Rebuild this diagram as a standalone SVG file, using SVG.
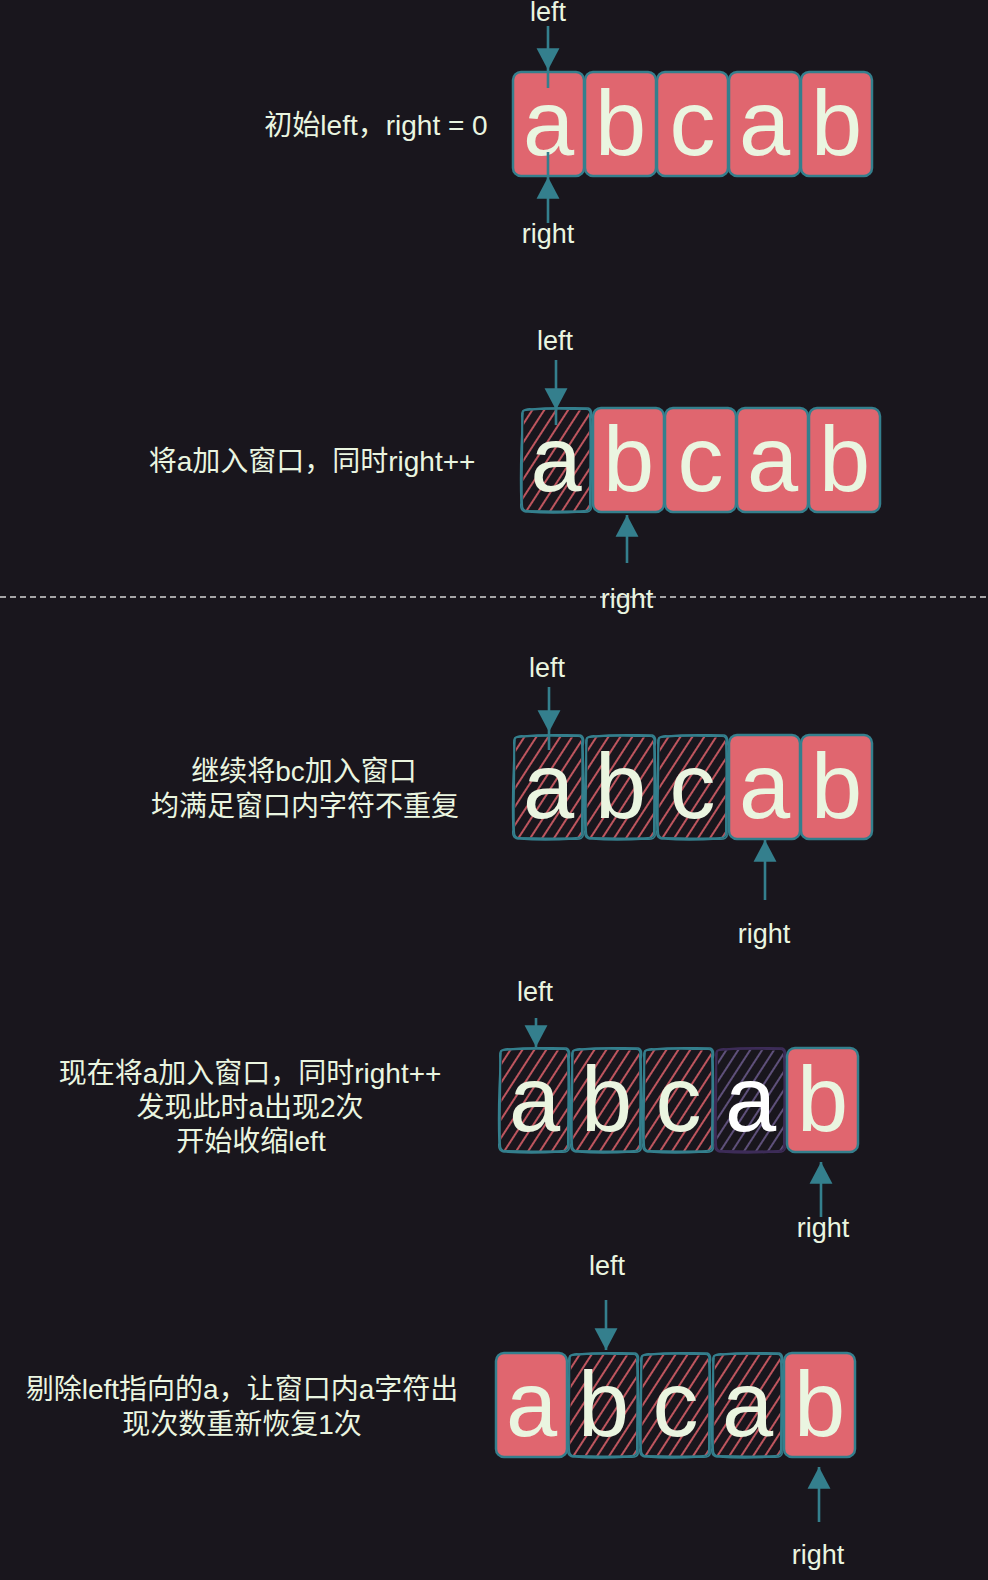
<svg xmlns="http://www.w3.org/2000/svg" xmlns:xlink="http://www.w3.org/1999/xlink" width="988" height="1580" viewBox="0 0 988 1580">
<style>
.bg{fill:#19161d}
.box{fill:#e0666f;stroke:#347f8d;stroke-width:2.5}
.ch{font-family:"Liberation Sans","Noto Sans CJK SC",sans-serif;font-size:92px;fill:#eaf5e0;text-anchor:middle}
.chw{fill:#ffffff}
.lbl{font-family:"Liberation Sans","Noto Sans CJK SC",sans-serif;font-size:27px;fill:#eaf5e0;text-anchor:middle}
.desc{font-family:"Liberation Sans","Noto Sans CJK SC",sans-serif;font-size:28px;fill:#eaf5e0;text-anchor:middle}
.arr{fill:none;stroke:#347f8d;stroke-width:2.6}
.mid{marker-mid:url(#ah)}
.end{marker-end:url(#ah)}
.dash{stroke:#d4d4d4;stroke-width:1.5;stroke-dasharray:6 4}
</style>
<defs>
<marker id="ah" markerUnits="userSpaceOnUse" markerWidth="24" markerHeight="24" viewBox="0 0 22 22" refX="20" refY="11" orient="auto">
<path d="M0,0.5 L20,11 L0,21.5 Z" fill="#347f8d"/>
</marker>
<pattern id="hatch" width="10" height="10" patternUnits="userSpaceOnUse" patternTransform="rotate(33)">
<line x1="2" y1="0" x2="2" y2="10" stroke="#e8656e" stroke-width="1.6"/>
</pattern>
<pattern id="hatchP" width="10" height="10" patternUnits="userSpaceOnUse" patternTransform="rotate(33)">
<line x1="2" y1="0" x2="2" y2="10" stroke="#75639a" stroke-width="1.5"/>
</pattern>
<symbol id="sketch" viewBox="0 0 72 106" width="72" height="106" overflow="visible">
<path d="M4,4 C20,2 52,3 69,4 L70,103 C50,105 22,104 3,103 Z" fill="url(#hatch)"/>
<path d="M6,3 C24,1 48,2 66,2 C70,2 71,5 70,9 C71,35 70,70 70,98 C70,103 68,104 64,104 C44,105 24,104 7,104 C3,104 2,101 2,97 C1,70 3,38 2,9 C2,4 3,3 6,3 Z" fill="none" stroke="#347f8d" stroke-width="2"/>
<path d="M3,6 C2,3 8,1 12,2 C30,0 50,1 68,1 C72,2 72,6 71,12 C72,40 71,72 71,100 C72,104 68,106 62,105 C44,106 22,106 8,105 C2,105 0,102 1,96 C0,68 1,36 3,6" fill="none" stroke="#347f8d" stroke-width="1.6"/>
</symbol>
<symbol id="sketchP" viewBox="0 0 72 106" width="72" height="106" overflow="visible">
<path d="M4,4 C20,2 52,3 69,4 L70,103 C50,105 22,104 3,103 Z" fill="url(#hatchP)"/>
<path d="M6,3 C24,1 48,2 66,2 C70,2 71,5 70,9 C71,35 70,70 70,98 C70,103 68,104 64,104 C44,105 24,104 7,104 C3,104 2,101 2,97 C1,70 3,38 2,9 C2,4 3,3 6,3 Z" fill="none" stroke="#3d2c58" stroke-width="2"/>
<path d="M3,6 C2,3 8,1 12,2 C30,0 50,1 68,1 C72,2 72,6 71,12 C72,40 71,72 71,100 C72,104 68,106 62,105 C44,106 22,106 8,105 C2,105 0,102 1,96 C0,68 1,36 3,6" fill="none" stroke="#3d2c58" stroke-width="1.6"/>
</symbol>
</defs>
<rect class="bg" x="0" y="0" width="988" height="1580"/>

<g id="separator">
<line class="dash" x1="0" y1="597" x2="988" y2="597"/>
</g>

<!-- Row 1 -->
<g id="row1">
<text class="desc" x="376" y="135">初始left，right = 0</text>
<g id="r1-b1"><rect class="box" x="513" y="72" width="71" height="104" rx="8"/><text class="ch" x="548.5" y="155">a</text></g>
<g id="r1-b2"><rect class="box" x="585" y="72" width="71" height="104" rx="8"/><text class="ch" x="620.5" y="155">b</text></g>
<g id="r1-b3"><rect class="box" x="657" y="72" width="71" height="104" rx="8"/><text class="ch" x="692.5" y="155">c</text></g>
<g id="r1-b4"><rect class="box" x="729" y="72" width="71" height="104" rx="8"/><text class="ch" x="764.5" y="155">a</text></g>
<g id="r1-b5"><rect class="box" x="801" y="72" width="71" height="104" rx="8"/><text class="ch" x="836.5" y="155">b</text></g>
<text class="lbl" x="548" y="21">left</text>
<text class="lbl" x="548" y="243">right</text>
</g>

<!-- Row 2 -->
<g id="row2">
<text class="desc" x="312" y="471">将a加入窗口，同时right++</text>
<g id="r2-b1"><use xlink:href="#sketch" x="520" y="407"/><text class="ch" x="556" y="491">a</text></g>
<g id="r2-b2"><rect class="box" x="593" y="408" width="71" height="104" rx="8"/><text class="ch" x="628.5" y="491">b</text></g>
<g id="r2-b3"><rect class="box" x="665" y="408" width="71" height="104" rx="8"/><text class="ch" x="700.5" y="491">c</text></g>
<g id="r2-b4"><rect class="box" x="737" y="408" width="71" height="104" rx="8"/><text class="ch" x="772.5" y="491">a</text></g>
<g id="r2-b5"><rect class="box" x="809" y="408" width="71" height="104" rx="8"/><text class="ch" x="844.5" y="491">b</text></g>
<text class="lbl" x="555" y="350">left</text>
<text class="lbl" x="627" y="608">right</text>
</g>

<!-- Row 3 -->
<g id="row3">
<text class="desc" x="304" y="781">继续将bc加入窗口</text>
<text class="desc" x="305" y="816">均满足窗口内字符不重复</text>
<g id="r3-b1"><use xlink:href="#sketch" x="512" y="734"/><text class="ch" x="548.5" y="818">a</text></g>
<g id="r3-b2"><use xlink:href="#sketch" x="584" y="734"/><text class="ch" x="620.5" y="818">b</text></g>
<g id="r3-b3"><use xlink:href="#sketch" x="656" y="734"/><text class="ch" x="692.5" y="818">c</text></g>
<g id="r3-b4"><rect class="box" x="729" y="735" width="71" height="104" rx="8"/><text class="ch" x="764.5" y="818">a</text></g>
<g id="r3-b5"><rect class="box" x="801" y="735" width="71" height="104" rx="8"/><text class="ch" x="836.5" y="818">b</text></g>
<text class="lbl" x="547" y="677">left</text>
<text class="lbl" x="764" y="943">right</text>
</g>

<!-- Row 4 -->
<g id="row4">
<text class="desc" x="250" y="1083">现在将a加入窗口，同时right++</text>
<text class="desc" x="250" y="1117">发现此时a出现2次</text>
<text class="desc" x="251" y="1151">开始收缩left</text>
<g id="r4-b1"><use xlink:href="#sketch" x="498" y="1047"/><text class="ch" x="534.5" y="1131">a</text></g>
<g id="r4-b2"><use xlink:href="#sketch" x="570" y="1047"/><text class="ch" x="606.5" y="1131">b</text></g>
<g id="r4-b3"><use xlink:href="#sketch" x="642" y="1047"/><text class="ch" x="678.5" y="1131">c</text></g>
<g id="r4-b4"><use xlink:href="#sketchP" x="714" y="1047"/><text class="ch chw" x="750.5" y="1131">a</text></g>
<g id="r4-b5"><rect class="box" x="787" y="1048" width="71" height="104" rx="8"/><text class="ch" x="822.5" y="1131">b</text></g>
<text class="lbl" x="535" y="1001">left</text>
<text class="lbl" x="823" y="1237">right</text>
</g>

<!-- Row 5 -->
<g id="row5">
<text class="desc" x="242" y="1399">剔除left指向的a，让窗口内a字符出</text>
<text class="desc" x="242" y="1434">现次数重新恢复1次</text>
<g id="r5-b1"><rect class="box" x="496" y="1353" width="71" height="104" rx="8"/><text class="ch" x="531.5" y="1436">a</text></g>
<g id="r5-b2"><use xlink:href="#sketch" x="567" y="1352"/><text class="ch" x="603.5" y="1436">b</text></g>
<g id="r5-b3"><use xlink:href="#sketch" x="639" y="1352"/><text class="ch" x="675.5" y="1436">c</text></g>
<g id="r5-b4"><use xlink:href="#sketch" x="711" y="1352"/><text class="ch" x="747.5" y="1436">a</text></g>
<g id="r5-b5"><rect class="box" x="784" y="1353" width="71" height="104" rx="8"/><text class="ch" x="819.5" y="1436">b</text></g>
<text class="lbl" x="607" y="1275">left</text>
<text class="lbl" x="818" y="1564">right</text>
</g>

<g id="connectors">
<path class="arr mid" d="M548,26 L548,70 L548,88"/>
<path class="arr mid" d="M548,223 L548,177 L548,152"/>
<path class="arr mid" d="M556,360 L556,410 L556,425"/>
<path class="arr end" d="M627,563 L627,515"/>
<path class="arr mid" d="M549,687 L549,732 L549,750"/>
<path class="arr end" d="M765,900 L765,840"/>
<path class="arr end" d="M536,1018 L536,1047"/>
<path class="arr end" d="M821,1217 L821,1162"/>
<path class="arr end" d="M606,1300 L606,1350"/>
<path class="arr end" d="M819,1522 L819,1467"/>
</g>
</svg>
